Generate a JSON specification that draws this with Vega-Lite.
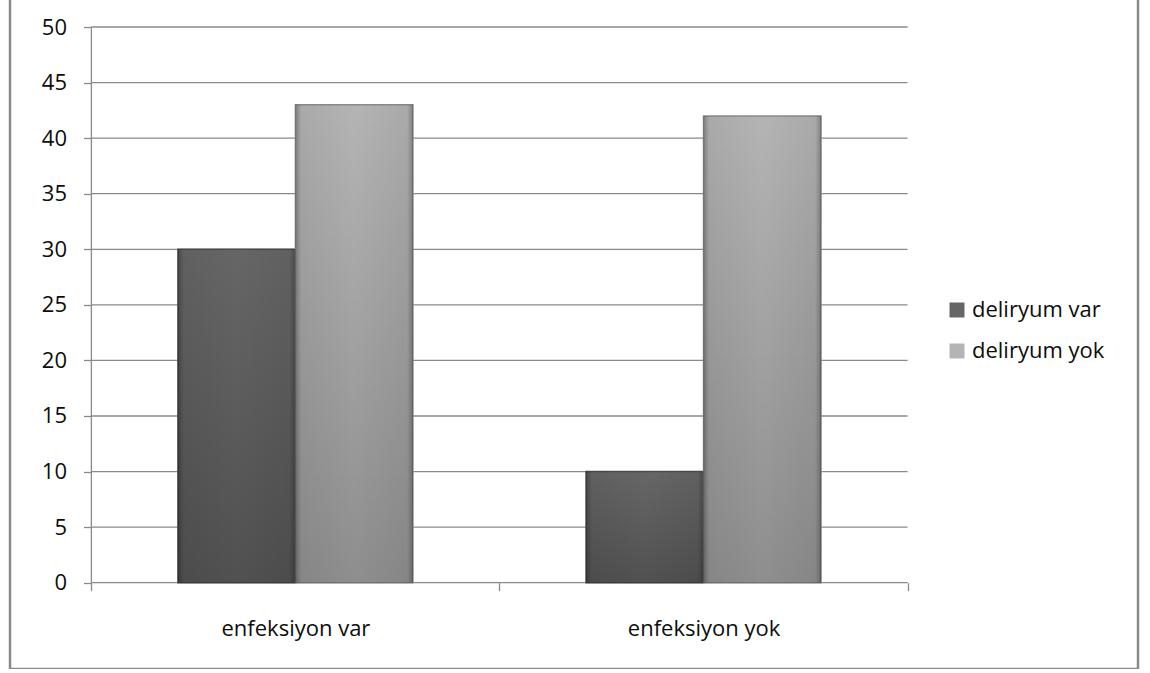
{
  "$schema": "https://vega.github.io/schema/vega-lite/v6.json",
  "width": 1128,
  "height": 673,
  "autosize": "none",
  "padding": {"left": 10, "top": -4, "right": 12, "bottom": 0},
  "background": "white",
  "config": {
    "font": "Open Sans",
    "view": {"stroke": "#8a8a8a", "strokeWidth": 2.5}
  },
  "datasets": {
    "counts": [
      {"enfeksiyon": "enfeksiyon var", "deliryum": "deliryum var", "n": 30},
      {"enfeksiyon": "enfeksiyon var", "deliryum": "deliryum yok", "n": 43},
      {"enfeksiyon": "enfeksiyon yok", "deliryum": "deliryum var", "n": 10},
      {"enfeksiyon": "enfeksiyon yok", "deliryum": "deliryum yok", "n": 42}
    ],
    "gridlines": [
      {"v": 0}, {"v": 5}, {"v": 10}, {"v": 15}, {"v": 20}, {"v": 25},
      {"v": 30}, {"v": 35}, {"v": 40}, {"v": 45}, {"v": 50}
    ]
  },
  "layer": [
    {
      "data": {"name": "gridlines"},
      "mark": {"type": "rule", "color": "#8a8a8a", "strokeWidth": 1.3},
      "encoding": {
        "y": {"field": "v", "type": "quantitative", "title": null},
        "x": {"datum": "enfeksiyon var", "bandPosition": 0},
        "x2": {"datum": "enfeksiyon yok", "bandPosition": 1}
      }
    },
    {
      "data": {"values": [{}]},
      "mark": {"type": "rule", "color": "#8a8a8a", "strokeWidth": 1.3},
      "encoding": {
        "x": {"datum": "enfeksiyon var", "bandPosition": 0},
        "y": {"datum": 0},
        "y2": {"datum": 50}
      }
    },
    {
      "data": {"name": "counts"},
      "mark": {"type": "bar", "strokeWidth": 1.5},
      "encoding": {
        "x": {
          "field": "enfeksiyon",
          "type": "nominal",
          "title": null,
          "scale": {
            "domain": ["enfeksiyon var", "enfeksiyon yok"],
            "paddingInner": 0,
            "paddingOuter": 0.382,
            "align": 0.261
          },
          "axis": {
            "orient": "bottom",
            "offset": -86.3,
            "tickBand": "extent",
            "tickSize": 8,
            "tickColor": "#8a8a8a",
            "tickWidth": 1.3,
            "domain": false,
            "grid": false,
            "labelAngle": 0,
            "labelAlign": "center",
            "labelFontSize": 22,
            "labelColor": "#0d0d0d",
            "labelPadding": 28,
            "labelBaseline": "top"
          }
        },
        "xOffset": {
          "field": "deliryum",
          "type": "nominal",
          "scale": {"domain": ["deliryum var", "deliryum yok"], "paddingInner": 0, "paddingOuter": 0.7366}
        },
        "y": {
          "field": "n",
          "type": "quantitative",
          "title": null,
          "scale": {"domain": [-7.765, 52.79], "nice": false, "zero": false},
          "axis": {
            "values": [0, 5, 10, 15, 20, 25, 30, 35, 40, 45, 50],
            "offset": -81.5,
            "domain": false,
            "grid": false,
            "tickSize": 8,
            "tickColor": "#8a8a8a",
            "tickWidth": 1.3,
            "labelFontSize": 22,
            "labelColor": "#0d0d0d",
            "labelPadding": 17
          }
        },
        "y2": {"datum": 0},
        "color": {
          "field": "deliryum",
          "type": "nominal",
          "title": null,
          "scale": {
            "domain": ["deliryum var", "deliryum yok"],
            "range": ["#666666", "#b4b4b4"]
          },
          "legend": {
            "orient": "none",
            "legendX": 936,
            "legendY": 303,
            "symbolType": "square",
            "symbolSize": 225,
            "symbolStrokeWidth": 0,
            "labelFontSize": 22,
            "labelColor": "#0d0d0d",
            "labelOffset": 4,
            "rowPadding": 19
          }
        },
        "stroke": {
          "field": "deliryum",
          "type": "nominal",
          "scale": {
            "domain": ["deliryum var", "deliryum yok"],
            "range": ["#4a4a4a", "#8a8a8a"]
          },
          "legend": null
        }
      }
    },
    {
      "data": {"name": "counts"},
      "mark": {
        "type": "bar",
        "fill": {
          "gradient": "linear", "x1": 0, "y1": 0, "x2": 0, "y2": 1,
          "stops": [
            {"offset": 0, "color": "rgba(0,0,0,0)"},
            {"offset": 1, "color": "rgba(0,0,0,0.21)"}
          ]
        }
      },
      "encoding": {
        "x": {"field": "enfeksiyon", "type": "nominal"},
        "xOffset": {"field": "deliryum", "type": "nominal"},
        "y": {"field": "n", "type": "quantitative"},
        "y2": {"datum": 0}
      }
    },
    {
      "data": {"name": "counts"},
      "mark": {
        "type": "bar",
        "fill": {
          "gradient": "linear", "x1": 0, "y1": 0, "x2": 1, "y2": 0,
          "stops": [
            {"offset": 0, "color": "rgba(0,0,0,0.28)"},
            {"offset": 0.05, "color": "rgba(0,0,0,0.06)"},
            {"offset": 0.5, "color": "rgba(0,0,0,0)"},
            {"offset": 0.95, "color": "rgba(0,0,0,0.06)"},
            {"offset": 1, "color": "rgba(0,0,0,0.28)"}
          ]
        }
      },
      "encoding": {
        "x": {"field": "enfeksiyon", "type": "nominal"},
        "xOffset": {"field": "deliryum", "type": "nominal"},
        "y": {"field": "n", "type": "quantitative"},
        "y2": {"datum": 0}
      }
    }
  ]
}
